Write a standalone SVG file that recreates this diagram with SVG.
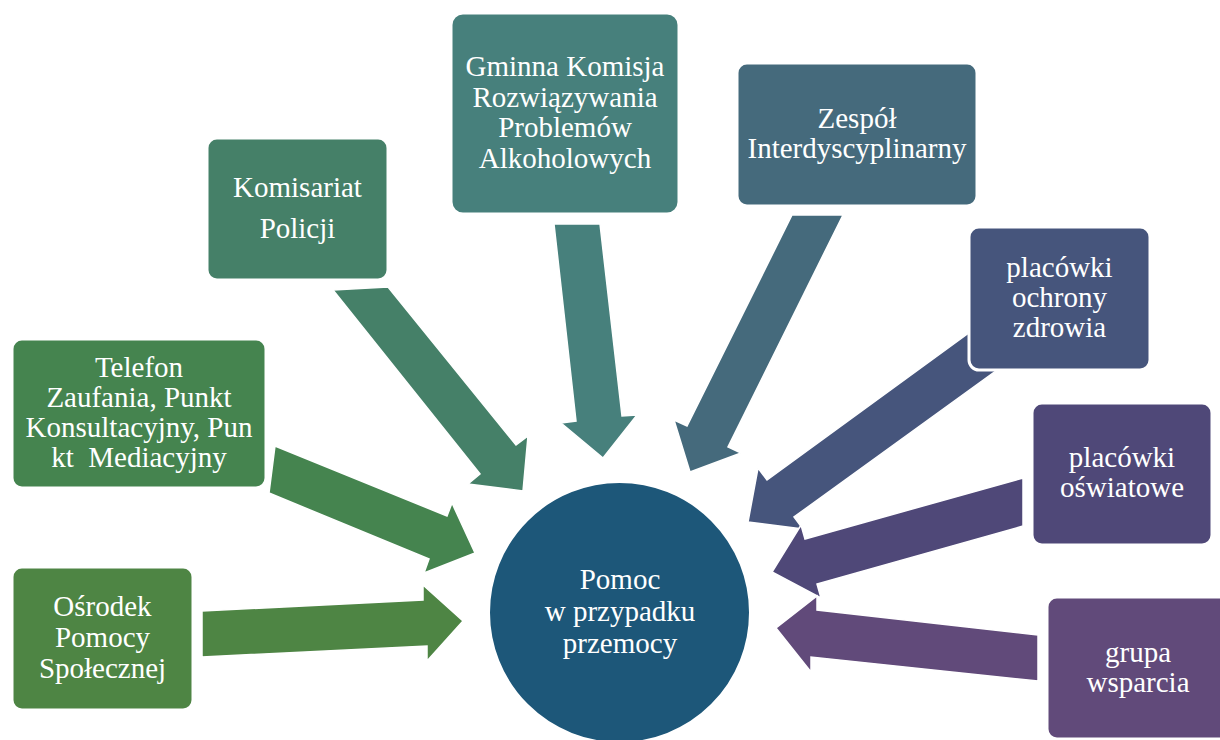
<svg xmlns="http://www.w3.org/2000/svg" width="1220" height="740" viewBox="0 0 1220 740">
<defs>
<marker id="unused" markerWidth="1" markerHeight="1"/>
</defs>
<rect width="1220" height="740" fill="#fff"/>
<g id="connectors" stroke="#fff" stroke-width="1.5">
<polygon fill="#4E8544" points="202,611 423,600 423,585 463,621 427,661 427,646 202,657"/>
<polygon fill="#45844F" points="275,446 447,516 452,503 475,553 424,573 429,559 269,493"/>
<polygon fill="#458068" points="333,290 388,287 516,445 528,436 523,491 468,484 480,474"/>
<polygon fill="#47807C" points="554,224 600,224 622,416 637,415 603,458 561,423 576,421"/>
<polygon fill="#456A7C" points="792,215 843,215 728,447 741,453 690,472 674,420 687,426"/>
<polygon fill="#46557C" points="1004,365 794,517 803,529 748,522 758,468 767,480 977,327"/>
<polygon fill="#4F4878" points="1023,478 805,539 801,525 772,572 821,598 817,584 1023,526"/>
<polygon fill="#614A7A" points="1038,635 817,610 817,596 776,628 811,672 811,657 1038,681"/>
</g>
<g id="n-osrodek">
<rect x="12" y="567" width="181" height="143" rx="10" fill="#4E8544" stroke="#fff" stroke-width="3"/>
<text x="102.5" y="616" font-family="Liberation Serif" font-size="29" fill="#fff" text-anchor="middle">Ośrodek</text>
<text x="102.5" y="647" font-family="Liberation Serif" font-size="29" fill="#fff" text-anchor="middle">Pomocy</text>
<text x="102.5" y="678" font-family="Liberation Serif" font-size="29" fill="#fff" text-anchor="middle">Społecznej</text>
</g>
<g id="n-telefon">
<rect x="12" y="339" width="254" height="149" rx="10" fill="#45844F" stroke="#fff" stroke-width="3"/>
<text x="139" y="377" font-family="Liberation Serif" font-size="29" fill="#fff" text-anchor="middle">Telefon</text>
<text x="139" y="407" font-family="Liberation Serif" font-size="29" fill="#fff" text-anchor="middle">Zaufania, Punkt</text>
<text x="139" y="437" font-family="Liberation Serif" font-size="29" fill="#fff" text-anchor="middle">Konsultacyjny, Pun</text>
<text x="139" y="467" font-family="Liberation Serif" font-size="29" fill="#fff" text-anchor="middle" xml:space="preserve">kt  Mediacyjny</text>
</g>
<g id="n-komisariat">
<rect x="207" y="138" width="181" height="142" rx="10" fill="#458068" stroke="#fff" stroke-width="3"/>
<text x="297.5" y="197" font-family="Liberation Serif" font-size="29" fill="#fff" text-anchor="middle">Komisariat</text>
<text x="297.5" y="238" font-family="Liberation Serif" font-size="29" fill="#fff" text-anchor="middle">Policji</text>
</g>
<g id="n-gminna">
<rect x="451" y="13" width="228" height="201" rx="12" fill="#47807C" stroke="#fff" stroke-width="3"/>
<text x="565" y="76" font-family="Liberation Serif" font-size="29" fill="#fff" text-anchor="middle">Gminna Komisja</text>
<text x="565" y="107" font-family="Liberation Serif" font-size="29" fill="#fff" text-anchor="middle">Rozwiązywania</text>
<text x="565" y="137" font-family="Liberation Serif" font-size="29" fill="#fff" text-anchor="middle">Problemów</text>
<text x="565" y="168" font-family="Liberation Serif" font-size="29" fill="#fff" text-anchor="middle">Alkoholowych</text>
</g>
<g id="n-zespol">
<rect x="737" y="63" width="240" height="143" rx="10" fill="#456A7C" stroke="#fff" stroke-width="3"/>
<text x="857" y="128" font-family="Liberation Serif" font-size="29" fill="#fff" text-anchor="middle">Zespół</text>
<text x="857" y="158" font-family="Liberation Serif" font-size="29" fill="#fff" text-anchor="middle">Interdyscyplinarny</text>
</g>
<g id="n-zdrowie">
<rect x="969" y="227" width="181" height="143" rx="10" fill="#46557C" stroke="#fff" stroke-width="3"/>
<text x="1059.5" y="277" font-family="Liberation Serif" font-size="29" fill="#fff" text-anchor="middle">placówki</text>
<text x="1059.5" y="307" font-family="Liberation Serif" font-size="29" fill="#fff" text-anchor="middle">ochrony</text>
<text x="1059.5" y="337" font-family="Liberation Serif" font-size="29" fill="#fff" text-anchor="middle">zdrowia</text>
</g>
<g id="n-oswiatowe">
<rect x="1032" y="403" width="180" height="142" rx="10" fill="#4F4878" stroke="#fff" stroke-width="3"/>
<text x="1122" y="467" font-family="Liberation Serif" font-size="29" fill="#fff" text-anchor="middle">placówki</text>
<text x="1122" y="497" font-family="Liberation Serif" font-size="29" fill="#fff" text-anchor="middle">oświatowe</text>
</g>
<g id="n-grupa">
<rect x="1047" y="597" width="182" height="142" rx="10" fill="#614A7A" stroke="#fff" stroke-width="3"/>
<text x="1138" y="662" font-family="Liberation Serif" font-size="29" fill="#fff" text-anchor="middle">grupa</text>
<text x="1138" y="692" font-family="Liberation Serif" font-size="29" fill="#fff" text-anchor="middle">wsparcia</text>
</g>
<g id="n-pomoc">
<circle cx="619.5" cy="612.5" r="130.5" fill="#1D5779" stroke="#fff" stroke-width="2"/>
<text x="620" y="589" font-family="Liberation Serif" font-size="29" fill="#fff" text-anchor="middle">Pomoc</text>
<text x="620" y="621" font-family="Liberation Serif" font-size="29" fill="#fff" text-anchor="middle">w przypadku</text>
<text x="620" y="653" font-family="Liberation Serif" font-size="29" fill="#fff" text-anchor="middle">przemocy</text>
</g>
</svg>
